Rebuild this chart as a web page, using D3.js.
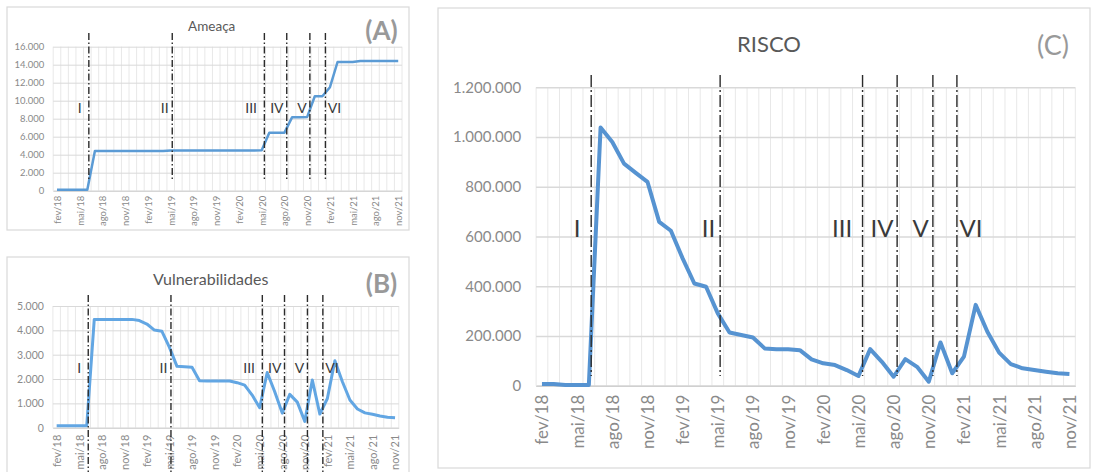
<!DOCTYPE html>
<html>
<head>
<meta charset="utf-8">
<script src="https://cdn.jsdelivr.net/npm/d3@7"></script>
<style>
  body { margin: 0; background: #fff; }
  svg { display: block; }
  text { font-family: Lato, "Liberation Sans", sans-serif; }
</style>
</head>
<body>
<svg id="chart" width="1093" height="472"></svg>
<script>
// categorias (meses)
const months = [
  'fev/18','mar/18','abr/18','mai/18','jun/18','jul/18','ago/18','set/18','out/18','nov/18','dez/18',
  'jan/19','fev/19','mar/19','abr/19','mai/19','jun/19','jul/19','ago/19','set/19','out/19','nov/19','dez/19',
  'jan/20','fev/20','mar/20','abr/20','mai/20','jun/20','jul/20','ago/20','set/20','out/20','nov/20','dez/20',
  'jan/21','fev/21','mar/21','abr/21','mai/21','jun/21','jul/21','ago/21','set/21','out/21','nov/21'
];
// only every 3rd month gets a label
const shownMonths = ['fev/18','mai/18','ago/18','nov/18','fev/19','mai/19','ago/19','nov/19',
  'fev/20','mai/20','ago/20','nov/20','fev/21','mai/21','ago/21','nov/21'];

const ameaca = [
  100, 100, 100, 100, 100, 4420, 4420, 4420, 4420, 4420, 4420,
  4420, 4420, 4420, 4420, 4460, 4460, 4460, 4460, 4460, 4460, 4460, 4460,
  4460, 4460, 4460, 4460, 4500, 6450, 6450, 6450, 8150, 8150, 8200, 10500,
  10500, 11500, 14300, 14300, 14300, 14420, 14420, 14420, 14420, 14420, 14420
];
const vulnerabilidades = [
  80, 80, 80, 80, 80, 4450, 4450, 4450, 4450, 4450, 4450,
  4400, 4260, 4010, 3960, 3300, 2520, 2500, 2480, 1930, 1920, 1920, 1920,
  1920, 1850, 1750, 1340, 820, 2270, 1480, 600, 1370, 1050, 260, 1960,
  560, 1200, 2750, 1890, 1140, 770, 610, 550, 480, 430, 410
];
const risco = [
  6700, 6700, 2700, 2700, 2700, 1038000, 980000, 893000, 856000, 820000, 659000,
  623000, 512000, 411000, 398000, 291000, 214000, 204000, 194000, 150000, 147000, 147000, 143000,
  106000, 90000, 83000, 63000, 39000, 147000, 96000, 36000, 107000, 76000, 16000, 174000,
  50000, 117000, 325000, 217000, 133000, 87000, 70000, 63000, 56000, 50000, 47000
];

// fases: nome, início (em meses desde fev/18) e onde fica o rótulo
const phaseNames = ['I', 'II', 'III', 'IV', 'V', 'VI'];
const phaseStart = [4.2, 15.2, 27.35, 30.3, 33.35, 35.4];
const phaseLabelAt = [3.0, 14.2, 25.6, 29.0, 32.3, 36.6];

const ticksA = [0, 2000, 4000, 6000, 8000, 10000, 12000, 14000, 16000];
const ticksB = [0, 1000, 2000, 3000, 4000, 5000];
const ticksC = [0, 200000, 400000, 600000, 800000, 1000000, 1200000];

const ptBR = d3.formatLocale({ decimal: ',', thousands: '.', grouping: [3], currency: ['R$', ''] });
const fmt = ptBR.format(',d');

const svg = d3.select('#chart');

const panels = [
  { values: ameaca, ticks: ticksA, title: 'Ameaça', tag: '(A)', color: '#5b9bd5',
    box: [7, 7, 402, 223], x: [53.2, 402], y: [190.7, 46.7],
    titleX: 211.7, titleY: 31, titleSize: 13.5, tagX: 381.5, tagY: 40, tagSize: 26, tagWeight: 'bold',
    yFont: 9.5, xFont: 9.5, xPad: 5, labelFont: 14, labelY: 113, lineTop: 33, lineBottom: 180,
    strokeW: 2.5, dash: '7,2.5,1.5,2.5', gridW: 1 },
  { values: vulnerabilidades, ticks: ticksB, title: 'Vulnerabilidades', tag: '(B)', color: '#62a6e3',
    box: [7, 257, 402, 240], x: [52.9, 398.8], y: [427.7, 306],
    titleX: 210.7, titleY: 284.5, titleSize: 16, tagX: 381.5, tagY: 293, tagSize: 26, tagWeight: 'bold',
    yFont: 10.5, xFont: 11, xPad: 7, labelFont: 14, labelY: 373, lineTop: 295, lineBottom: 472,
    strokeW: 3, dash: '7,2.5,1.5,2.5', gridW: 1 },
  { values: risco, ticks: ticksC, title: 'RISCO', tag: '(C)', color: '#5693d1',
    box: [438, 8, 652, 460], x: [536.1, 1075.3], y: [385.7, 87.3],
    titleX: 769, titleY: 52, titleSize: 22, tagX: 1053, tagY: 55, tagSize: 27, tagWeight: 'normal',
    yFont: 15, xFont: 17, xPad: 9, labelFont: 24, labelY: 237, lineTop: 75, lineBottom: 376,
    strokeW: 4, dash: '12,3,2,3', gridW: 1.5 }
];

panels.forEach(p => {
  const g = svg.append('g');

  g.append('rect')
    .attr('x', p.box[0]).attr('y', p.box[1])
    .attr('width', p.box[2]).attr('height', p.box[3])
    .attr('fill', '#fff').attr('stroke', '#d9d9d9').attr('stroke-width', 1.2);

  const xScale = d3.scaleLinear().domain([-0.5, months.length - 0.5]).range(p.x);
  const yScale = d3.scaleLinear().domain([0, d3.max(p.ticks)]).range(p.y);

  // vertical month grid (between categories)
  g.append('g').selectAll('line')
    .data(d3.range(months.length + 1))
    .join('line')
    .attr('x1', i => xScale(i - 0.5)).attr('x2', i => xScale(i - 0.5))
    .attr('y1', p.y[0]).attr('y2', p.y[1])
    .attr('stroke', '#e8e8e8').attr('stroke-width', 1);

  // horizontal grid
  const grid = g.append('g')
    .attr('transform', `translate(${p.x[0]},0)`)
    .call(d3.axisLeft(yScale).tickValues(p.ticks).tickSize(-(p.x[1] - p.x[0])).tickFormat(''));
  grid.select('.domain').remove();
  grid.selectAll('line').attr('stroke', '#d9d9d9').attr('stroke-width', p.gridW);

  // y axis labels
  const yAxis = g.append('g')
    .attr('transform', `translate(${p.x[0]},0)`)
    .call(d3.axisLeft(yScale).tickValues(p.ticks).tickSize(0).tickPadding(p.x[0] > 500 ? 15 : 9).tickFormat(fmt));
  yAxis.select('.domain').remove();
  yAxis.selectAll('text')
    .attr('fill', '#8a8a8a').style('font-size', p.yFont + 'px');

  // x axis
  const xAxis = g.append('g')
    .attr('transform', `translate(0,${p.y[0]})`)
    .call(d3.axisBottom(xScale)
      .tickValues(shownMonths.map(m => months.indexOf(m)))
      .tickFormat(i => months[i])
      .tickSize(0));
  xAxis.select('.domain').attr('stroke', '#d0d0d0').attr('stroke-width', p.gridW);
  xAxis.selectAll('text')
    .attr('fill', '#8a8a8a').style('font-size', p.xFont + 'px')
    .attr('text-anchor', 'end')
    .attr('transform', 'rotate(-90)')
    .attr('x', -p.xPad).attr('y', 0).attr('dy', '0.35em');

  // title and panel tag
  g.append('text')
    .attr('x', p.titleX).attr('y', p.titleY)
    .attr('text-anchor', 'middle')
    .attr('fill', '#595959').style('font-size', p.titleSize + 'px')
    .text(p.title);
  g.append('text')
    .attr('x', p.tagX).attr('y', p.tagY)
    .attr('text-anchor', 'middle')
    .attr('fill', '#999').style('font-size', p.tagSize + 'px')
    .style('font-weight', p.tagWeight)
    .text(p.tag);

  // the series line
  g.append('path')
    .datum(p.values)
    .attr('fill', 'none')
    .attr('stroke', p.color)
    .attr('stroke-width', p.strokeW)
    .attr('stroke-linejoin', 'round')
    .attr('d', d3.line().x((d, i) => xScale(i)).y(d => yScale(d)));

  // phase boundaries
  g.append('g').selectAll('line')
    .data(phaseStart)
    .join('line')
    .attr('x1', d => xScale(d)).attr('x2', d => xScale(d))
    .attr('y1', p.lineTop).attr('y2', p.lineBottom)
    .attr('stroke', '#2b2b2b').attr('stroke-width', 1.4)
    .attr('stroke-dasharray', p.dash);

  g.append('g').selectAll('text')
    .data(phaseNames)
    .join('text')
    .attr('x', (d, i) => xScale(phaseLabelAt[i]))
    .attr('y', p.labelY)
    .attr('text-anchor', 'middle')
    .attr('fill', '#3a3a3a')
    .style('font-size', p.labelFont + 'px')
    .text(d => d);
});
</script>
</body>
</html>
